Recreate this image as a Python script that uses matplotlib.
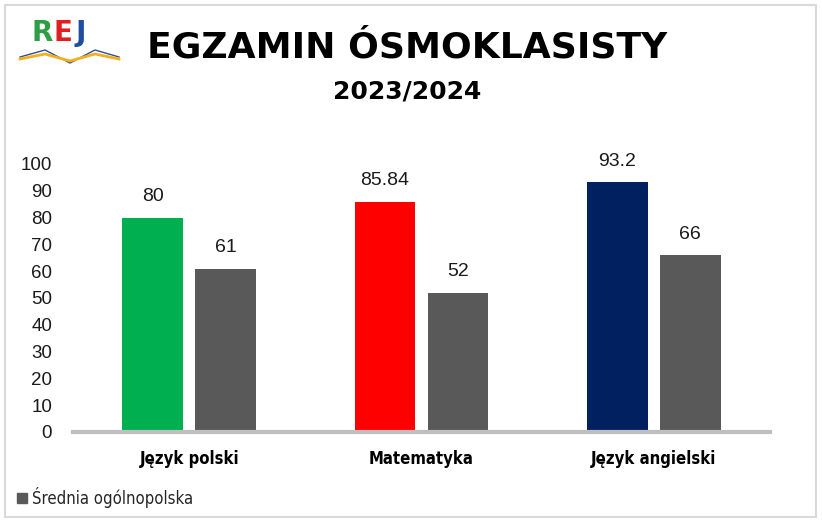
import matplotlib.pyplot as plt
import numpy as np
from matplotlib.patches import Rectangle

categories = ['Język polski', 'Matematyka', 'Język angielski']
school = [80, 85.84, 93.2]
national = [61, 52, 66]
school_colors = ['#00B050', '#FF0000', '#002060']
national_color = '#595959'
yticks = [0, 10, 20, 30, 40, 50, 60, 70, 80, 90, 100]

fig = plt.figure(figsize=(8.22, 5.22), dpi=100)
fig.patch.set_facecolor('white')

# ramka wokół całości
fig.patches.append(Rectangle((5 / 822, 5 / 522), 811 / 822, 512 / 522, transform=fig.transFigure,
                             fill=False, edgecolor='#D9D9D9', linewidth=1.5))

ax = fig.add_axes([73 / 822, 90 / 522, 697 / 822, 268 / 522])
x = np.arange(len(categories))
w = 0.26
off = 0.157
bars1 = ax.bar(x - off, school, w, color=school_colors)
bars2 = ax.bar(x + off, national, w, color=national_color)

for b, v in zip(list(bars1) + list(bars2), school + national):
    ax.annotate(f'{v:g}', (b.get_x() + b.get_width() / 2, v), xytext=(0, 9),
                textcoords='offset points', ha='center', va='bottom',
                fontsize=14, family='Liberation Sans', color='#1a1a1a')

ax.set_xlim(-0.5, 2.5)
ax.set_ylim(0, 100)
ax.set_yticks(yticks)
ax.set_yticklabels([str(t) for t in yticks], fontsize=13.5, family='Liberation Sans', color='#1a1a1a')
ax.tick_params(axis='y', length=0, pad=15)
ax.set_xticks(x)
ax.set_xticklabels(categories)
for lab in ax.get_xticklabels():
    lab.set_fontproperties({'family': 'DejaVu Sans', 'weight': 'bold', 'stretch': 'condensed', 'size': 12})
ax.tick_params(axis='x', length=0, pad=13)
for s in ['top', 'right', 'left']:
    ax.spines[s].set_visible(False)
ax.spines['bottom'].set_color('#BFBFBF')
ax.spines['bottom'].set_linewidth(3)
ax.set_facecolor('none')

# tytuł
fig.text(407 / 822, 1 - 48 / 522, 'EGZAMIN ÓSMOKLASISTY', ha='center', va='center',
         fontsize=26, fontweight='bold', family='DejaVu Sans', color='black')
fig.text(407 / 822, 1 - 92 / 522, '2023/2024', ha='center', va='center',
         fontsize=18, fontweight='bold', family='DejaVu Sans', color='black')

# logo
for ch, px, col in [('R', 31, '#2E9E44'), ('E', 53, '#E02020'), ('J', 75, '#1F4E9E')]:
    fig.text(px / 822, 1 - 33 / 522, ch, color=col, fontsize=20, fontweight='bold', va='center')
fig.lines.append(plt.Line2D([20 / 822, 45 / 822, 70 / 822, 95 / 822, 119 / 822],
                            [1 - 57 / 522, 1 - 50 / 522, 1 - 63 / 522, 1 - 50 / 522, 1 - 57 / 522],
                            transform=fig.transFigure, color='#2F4F8F', linewidth=1))
fig.lines.append(plt.Line2D([20 / 822, 45 / 822, 70 / 822, 95 / 822, 119 / 822],
                            [1 - 59 / 522, 1 - 54 / 522, 1 - 61 / 522, 1 - 54 / 522, 1 - 59 / 522],
                            transform=fig.transFigure, color='#F2B01E', linewidth=2))

# legenda
fig.patches.append(Rectangle((17 / 822, 1 - 503 / 522), 10 / 822, 10 / 522, transform=fig.transFigure,
                             color=national_color))
fig.text(32 / 822, 1 - 497 / 522, 'Średnia ogólnopolska', fontsize=12, family='DejaVu Sans',
         stretch='condensed', va='center', color='#262626')

fig.savefig('out.png', dpi=100)
